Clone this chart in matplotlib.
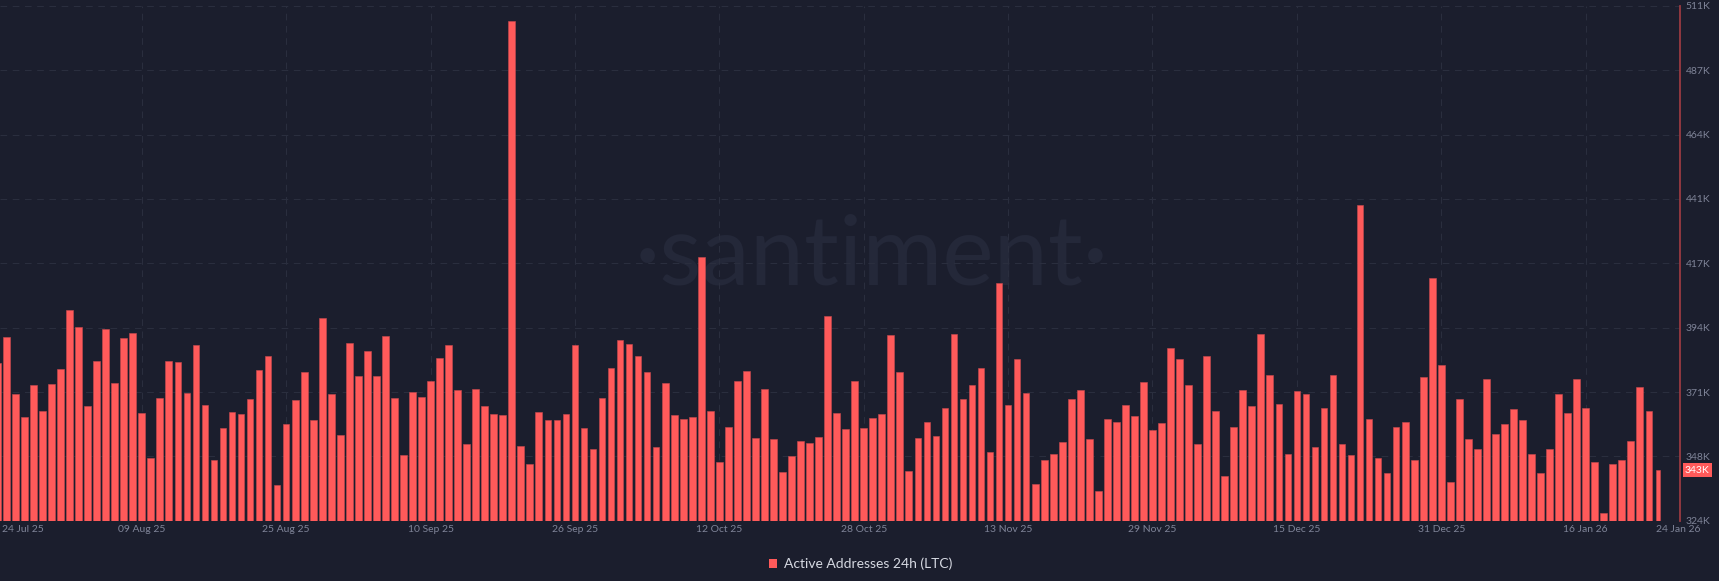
import numpy as np
import pandas as pd
import matplotlib
matplotlib.use("Agg")
import matplotlib.pyplot as plt
import matplotlib.transforms as mtransforms
from matplotlib.patches import Patch

# daily active addresses, thousands
active_k = [
    381.2, 390.9, 370.1, 361.7, 373.2, 364.0, 373.6, 379.2, 400.6, 394.5,
    365.5, 382.1, 393.6, 374.0, 390.4, 392.2, 363.1, 346.9, 368.6, 382.1,
    381.5, 370.4, 387.9, 365.9, 346.0, 357.7, 363.6, 362.9, 368.1, 378.6,
    383.8, 336.9, 359.0, 368.0, 377.9, 360.5, 397.7, 370.0, 355.2, 388.4,
    376.7, 385.6, 376.4, 391.1, 368.4, 347.8, 370.9, 369.0, 374.7, 383.1,
    387.9, 371.3, 352.0, 371.7, 365.8, 362.9, 362.5, 505.5, 351.1, 344.5,
    363.5, 360.4, 360.4, 362.9, 388.0, 357.5, 350.1, 368.7, 379.6, 389.7,
    388.3, 383.8, 378.0, 350.8, 373.9, 362.3, 360.8, 361.7, 419.7, 363.7,
    345.4, 357.9, 374.7, 378.3, 354.2, 371.7, 353.6, 341.6, 347.4, 353.0,
    352.3, 354.4, 398.3, 363.0, 357.2, 374.8, 357.6, 361.2, 362.8, 391.3,
    378.0, 342.2, 354.0, 360.0, 354.9, 364.9, 392.0, 368.3, 373.2, 379.4,
    348.9, 410.4, 365.9, 382.6, 370.4, 337.2, 345.9, 348.4, 352.6, 368.1,
    371.3, 353.7, 334.7, 361.0, 360.0, 365.9, 362.2, 374.5, 356.9, 359.5,
    386.9, 382.6, 373.2, 351.7, 383.7, 364.0, 340.4, 358.2, 371.6, 365.5,
    391.9, 376.8, 366.4, 348.3, 371.2, 370.1, 350.6, 364.8, 376.8, 352.0,
    347.9, 438.8, 360.8, 346.7, 341.4, 357.9, 359.9, 346.0, 376.1, 412.2,
    380.6, 338.0, 368.1, 353.5, 350.1, 375.3, 355.4, 359.3, 364.7, 360.5,
    348.4, 341.3, 350.1, 369.9, 363.1, 375.3, 364.8, 345.4, 326.8, 344.5,
    346.0, 353.1, 372.6, 363.7, 342.4,
]
dates = pd.date_range("2025-07-24", periods=len(active_k), freq="D")

tick_dates = pd.date_range("2025-08-09", periods=11, freq="16D")
tick_labels = ["09 Aug 25", "25 Aug 25", "10 Sep 25", "26 Sep 25", "12 Oct 25",
               "28 Oct 25", "13 Nov 25", "29 Nov 25", "15 Dec 25", "31 Dec 25",
               "16 Jan 26"]
first_label = "24 Jul 25"
last_label = "24 Jan 26"

y_labels = ["324K", "348K", "371K", "394K", "417K", "441K", "464K", "487K", "511K"]
y_min, y_max = 324, 511
series_name = "Active Addresses 24h (LTC)"
current_label = "343K"

bg = "#1b1e2d"
bar_color = "#ff5a5a"
text_grey = "#7f8498"
grid_color = "#2a2e3e"

plt.rcParams["font.family"] = ["Lato", "DejaVu Sans"]

fig = plt.figure(figsize=(17.19, 5.81), dpi=100, facecolor=bg)
ax = fig.add_axes([0, 0.1038, 0.9773, 0.886])
ax.set_facecolor(bg)

# watermark behind the bars
ax.text(0.519, 0.458, "\u00b7santiment\u00b7", transform=ax.transAxes,
        fontsize=70, color="#242839", ha="center", va="baseline",
        fontweight="normal", zorder=0.5)

widths = np.full(len(active_k), 0.74)
widths[-1] = 0.44
ax.bar(dates, active_k, width=widths, color=bar_color,
       edgecolor="#c94a4f", linewidth=0.4, zorder=2)

ax.set_ylim(y_min, y_max)
ax.set_xlim(dates[0] + pd.Timedelta(hours=7), dates[0] + pd.Timedelta(hours=24 * 186.45))

ax.set_yticks(np.linspace(y_min, y_max, len(y_labels)))
ax.set_yticklabels(y_labels)
ax.yaxis.tick_right()
ax.set_xticks(tick_dates)
ax.set_xticklabels(tick_labels)
ax.tick_params(axis="both", length=0, labelsize=7.5, colors=text_grey)
ax.tick_params(axis="x", pad=3)
ax.tick_params(axis="y", pad=4)

ax.grid(True, color=grid_color, linestyle=(0, (6, 5)), linewidth=0.8)
ax.set_axisbelow(True)

for side in ["top", "left", "bottom"]:
    ax.spines[side].set_visible(False)
ax.spines["right"].set_color("#9a3a42")
ax.spines["right"].set_linewidth(1.3)

# edge date labels
ax.text(0.001, -0.018, first_label, transform=ax.transAxes, fontsize=7.5,
        color=text_grey, ha="left", va="center")
blend = mtransforms.blended_transform_factory(ax.transData, ax.transAxes)
ax.text(dates[-1] - pd.Timedelta(hours=6), -0.018, last_label, transform=blend,
        fontsize=7.5, color=text_grey, ha="left", va="center", clip_on=False)

# current value tag
tag = mtransforms.blended_transform_factory(ax.transAxes, ax.transData)
ax.text(1.003, active_k[-1], current_label, transform=tag, fontsize=7.5,
        color="white", ha="left", va="center", clip_on=False,
        bbox=dict(boxstyle="square,pad=0.2", fc=bar_color, ec="none"))

fig.legend(handles=[Patch(facecolor=bar_color, edgecolor="none", label=series_name)],
           loc="center", bbox_to_anchor=(0.5005, 0.029), frameon=False,
           fontsize=10, labelcolor="#d6d9e2", handlelength=0.6, handleheight=0.6,
           handletextpad=0.5)

fig.savefig("out.png", dpi=100, facecolor=bg)
